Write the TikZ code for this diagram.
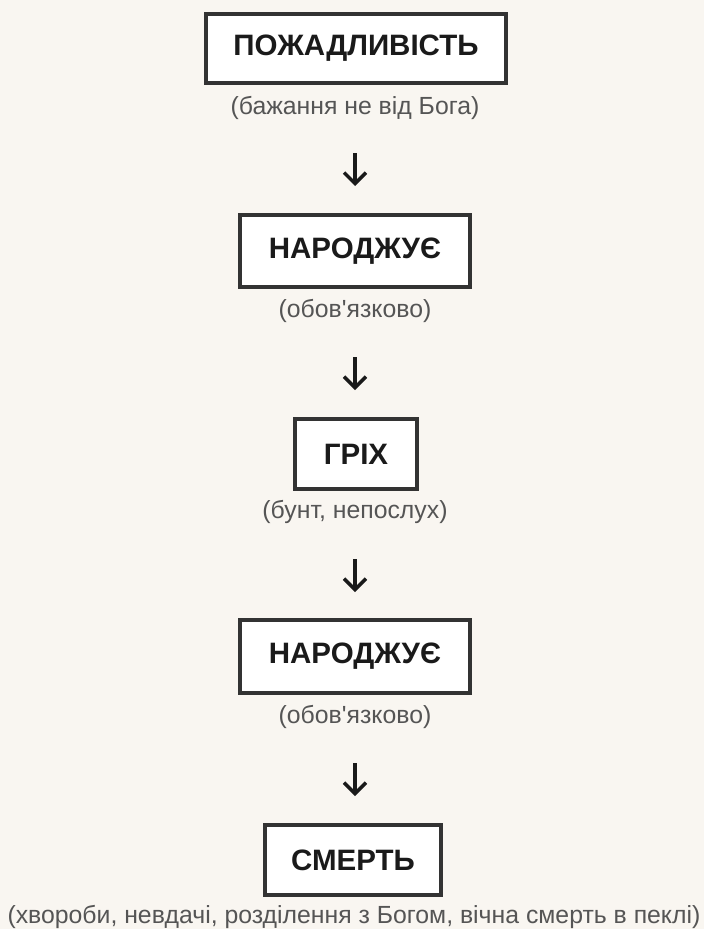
\documentclass[tikz,border=0pt]{standalone}
\usepackage{fontspec}
\setmainfont{Liberation Sans}[Ligatures=TeXOff]
\usetikzlibrary{arrows.meta}
\definecolor{bgcol}{HTML}{F9F6F1}
\definecolor{boxline}{HTML}{333333}
\definecolor{ink}{HTML}{1A1A1A}
\definecolor{subink}{HTML}{555555}
\tikzset{
  stagebox/.style={draw=boxline, line width=3.8pt, fill=white, text=ink,
    font=\fontsize{29.5}{36}\selectfont\bfseries, inner sep=0pt, anchor=center},
  subtext/.style={text=subink, font=\fontsize{24.8}{30}\selectfont, inner sep=0pt, anchor=center},
  flowarrow/.style={draw=ink, line width=3.4pt,
    -{Straight Barb[length=11pt,width=22pt]}}
}
\begin{document}
\begin{tikzpicture}[x=1pt,y=-1pt]
\fill[bgcol] (0,0) rectangle (704,929);
\useasboundingbox (0,0) rectangle (704,929);

\node[stagebox, minimum width=300pt, minimum height=69pt] (b1) at (356,48.5) {ПОЖАДЛИВІСТЬ};
\node[subtext] (s1) at (355,108) {(бажання не від Бога)};

\node[stagebox, minimum width=230pt, minimum height=72pt] (b2) at (355,251) {НАРОДЖУЄ};
\node[subtext] (s2) at (355,311) {(обов'язково)};

\node[stagebox, minimum width=122pt, minimum height=70pt] (b3) at (356,454) {ГРІХ};
\node[subtext] (s3) at (355,512) {(бунт, непослух)};

\node[stagebox, minimum width=230pt, minimum height=73pt] (b4) at (355,656.5) {НАРОДЖУЄ};
\node[subtext] (s4) at (355,717) {(обов'язково)};

\node[stagebox, minimum width=176pt, minimum height=70pt] (b5) at (353,860) {СМЕРТЬ};
\node[subtext] (s5) at (354,917) {(хвороби, невдачі, розділення з Богом, вічна смерть в пеклі)};

\coordinate (a1s) at (355,153);
\coordinate (a1e) at (355,186);
\coordinate (a2s) at (355,357);
\coordinate (a2e) at (355,390);
\coordinate (a3s) at (355,559);
\coordinate (a3e) at (355,592);
\coordinate (a4s) at (355,763);
\coordinate (a4e) at (355,796);
\draw[flowarrow] (a1s) -- (a1e);
\draw[flowarrow] (a2s) -- (a2e);
\draw[flowarrow] (a3s) -- (a3e);
\draw[flowarrow] (a4s) -- (a4e);
\end{tikzpicture}
\end{document}
